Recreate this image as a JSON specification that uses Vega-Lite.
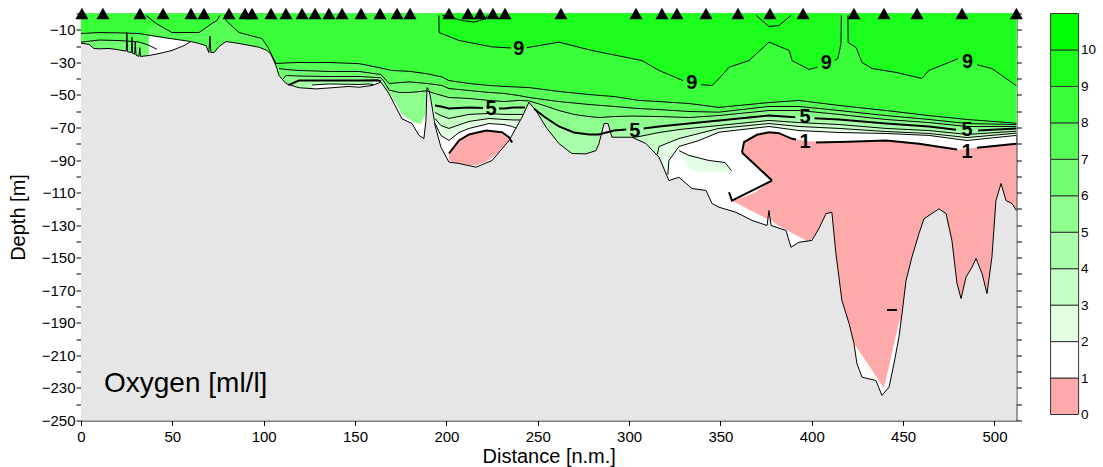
{
"$schema":"https://vega.github.io/schema/vega-lite/v6.json",
"autosize":{"type":"pad"},
"padding":{"left":8,"top":6.5,"right":0,"bottom":0},
"bounds":"flush",
"spacing":33.6,
"config":{"font":"Liberation Sans","view":{"stroke":null},"axis":{"labelFont":"Liberation Sans","titleFont":"Liberation Sans","labelColor":"black","titleColor":"black","titleFontWeight":"normal","grid":false,"domainColor":"black","tickColor":"black"},"text":{"font":"Liberation Sans"}},
"datasets":{
"bands":[
{"lv":2,"s":"2a","d":191,"z":-58},{"lv":2,"s":"2a","d":193.8,"z":-67.6},{"lv":2,"s":"2a","d":197,"z":-74.9},{"lv":2,"s":"2a","d":201.4,"z":-78},{"lv":2,"s":"2a","d":206.9,"z":-73.1},{"lv":2,"s":"2a","d":212.4,"z":-70.6},{"lv":2,"s":"2a","d":223.3,"z":-67.6},{"lv":2,"s":"2a","d":231.5,"z":-68.2},{"lv":2,"s":"2a","d":236,"z":-69.4},{"lv":2,"s":"2a","d":238.3,"z":-70.5},{"lv":2,"s":"2a","d":239,"z":-240},{"lv":2,"s":"2a","d":241,"z":-240},
{"lv":2,"s":"2b","d":313,"z":-240},{"lv":2,"s":"2b","d":318,"z":-240},{"lv":2,"s":"2b","d":321.8,"z":-90.3},{"lv":2,"s":"2b","d":327.3,"z":-81.7},{"lv":2,"s":"2b","d":338.3,"z":-78},{"lv":2,"s":"2b","d":349.2,"z":-72.9},{"lv":2,"s":"2b","d":376.6,"z":-69.4},{"lv":2,"s":"2b","d":393,"z":-71.9},{"lv":2,"s":"2b","d":414.9,"z":-73.1},{"lv":2,"s":"2b","d":440.6,"z":-73.7},{"lv":2,"s":"2b","d":464.1,"z":-74.9},{"lv":2,"s":"2b","d":485,"z":-78},{"lv":2,"s":"2b","d":512,"z":-74.9},
{"lv":3,"s":"3a","d":191,"z":-57},{"lv":3,"s":"3a","d":193.8,"z":-64.5},{"lv":3,"s":"3a","d":197,"z":-68.8},{"lv":3,"s":"3a","d":201.4,"z":-70.6},{"lv":3,"s":"3a","d":212.4,"z":-66.3},{"lv":3,"s":"3a","d":223.3,"z":-64.5},{"lv":3,"s":"3a","d":231.5,"z":-65.1},{"lv":3,"s":"3a","d":237,"z":-65.4},{"lv":3,"s":"3a","d":240.3,"z":-65.4},{"lv":3,"s":"3a","d":241,"z":-240},{"lv":3,"s":"3a","d":242.5,"z":-240},
{"lv":3,"s":"3b","d":301,"z":-240},{"lv":3,"s":"3b","d":313,"z":-240},{"lv":3,"s":"3b","d":316.4,"z":-81.7},{"lv":3,"s":"3b","d":327.3,"z":-76.8},{"lv":3,"s":"3b","d":338.3,"z":-73.7},{"lv":3,"s":"3b","d":349.2,"z":-70.6},{"lv":3,"s":"3b","d":376.6,"z":-67.6},{"lv":3,"s":"3b","d":393,"z":-69.4},{"lv":3,"s":"3b","d":414.9,"z":-70.6},{"lv":3,"s":"3b","d":440.6,"z":-72.5},{"lv":3,"s":"3b","d":464.1,"z":-73.7},{"lv":3,"s":"3b","d":485,"z":-76.2},{"lv":3,"s":"3b","d":512,"z":-73.5},
{"lv":4,"s":"4a","d":111,"z":-240},{"lv":4,"s":"4a","d":124.5,"z":-240},{"lv":4,"s":"4a","d":126.5,"z":-43.9},{"lv":4,"s":"4a","d":135.7,"z":-43.3},{"lv":4,"s":"4a","d":152.2,"z":-43.6},{"lv":4,"s":"4a","d":158,"z":-43.3},{"lv":4,"s":"4a","d":160,"z":-43.8},
{"lv":4,"s":"4b","d":191,"z":-55},{"lv":4,"s":"4b","d":193.8,"z":-60.8},{"lv":4,"s":"4b","d":197,"z":-62.7},{"lv":4,"s":"4b","d":201.4,"z":-64.5},{"lv":4,"s":"4b","d":212.4,"z":-62},{"lv":4,"s":"4b","d":223.3,"z":-61.4},{"lv":4,"s":"4b","d":231.5,"z":-62},{"lv":4,"s":"4b","d":237,"z":-62},{"lv":4,"s":"4b","d":241.9,"z":-62},{"lv":4,"s":"4b","d":242.5,"z":-240},{"lv":4,"s":"4b","d":301,"z":-240},{"lv":4,"s":"4b","d":302,"z":-76},{"lv":4,"s":"4b","d":305.4,"z":-75.6},{"lv":4,"s":"4b","d":316.4,"z":-73.1},{"lv":4,"s":"4b","d":327.3,"z":-71.3},{"lv":4,"s":"4b","d":338.3,"z":-70},{"lv":4,"s":"4b","d":349.2,"z":-68.8},{"lv":4,"s":"4b","d":376.6,"z":-65.7},{"lv":4,"s":"4b","d":393,"z":-67},{"lv":4,"s":"4b","d":414.9,"z":-68.2},{"lv":4,"s":"4b","d":440.6,"z":-70.6},{"lv":4,"s":"4b","d":464.1,"z":-71.9},{"lv":4,"s":"4b","d":485,"z":-74.3},{"lv":4,"s":"4b","d":512,"z":-72.3},
{"lv":5,"s":"5a","d":111,"z":-240},{"lv":5,"s":"5a","d":113.5,"z":-44},{"lv":5,"s":"5a","d":119.3,"z":-41.2},{"lv":5,"s":"5a","d":135.7,"z":-41.2},{"lv":5,"s":"5a","d":152.2,"z":-41.2},{"lv":5,"s":"5a","d":162,"z":-41},{"lv":5,"s":"5a","d":164.2,"z":-41.6},{"lv":5,"s":"5a","d":166,"z":-46},{"lv":5,"s":"5a","d":168.6,"z":-49},{"lv":5,"s":"5a","d":172.4,"z":-55},{"lv":5,"s":"5a","d":175.7,"z":-62},{"lv":5,"s":"5a","d":179.5,"z":-65},{"lv":5,"s":"5a","d":183,"z":-67},{"lv":5,"s":"5a","d":186,"z":-68},{"lv":5,"s":"5a","d":188.5,"z":-62},{"lv":5,"s":"5a","d":189.4,"z":-45.5},{"lv":5,"s":"5a","d":190.5,"z":-50},{"lv":5,"s":"5a","d":193.8,"z":-56.5},{"lv":5,"s":"5a","d":197,"z":-57.1},{"lv":5,"s":"5a","d":201.4,"z":-58.4},{"lv":5,"s":"5a","d":212.4,"z":-57.7},{"lv":5,"s":"5a","d":224.4,"z":-58.4},{"lv":5,"s":"5a","d":231.5,"z":-58.4},{"lv":5,"s":"5a","d":237,"z":-57.7},{"lv":5,"s":"5a","d":243,"z":-57.7},{"lv":5,"s":"5a","d":244,"z":-240},{"lv":5,"s":"5a","d":246.5,"z":-240},{"lv":5,"s":"5a","d":248,"z":-58.5},{"lv":5,"s":"5a","d":253.4,"z":-63.3},{"lv":5,"s":"5a","d":261.6,"z":-69.4},{"lv":5,"s":"5a","d":269.8,"z":-73.1},{"lv":5,"s":"5a","d":278.1,"z":-74.3},{"lv":5,"s":"5a","d":283.5,"z":-74.3},{"lv":5,"s":"5a","d":291.7,"z":-71.9},{"lv":5,"s":"5a","d":303.2,"z":-71},{"lv":5,"s":"5a","d":316.4,"z":-69.4},{"lv":5,"s":"5a","d":327.3,"z":-68.2},{"lv":5,"s":"5a","d":338.3,"z":-66.9},{"lv":5,"s":"5a","d":349.2,"z":-65.7},{"lv":5,"s":"5a","d":376.6,"z":-62.7},{"lv":5,"s":"5a","d":396.3,"z":-64},{"lv":5,"s":"5a","d":414.9,"z":-65.1},{"lv":5,"s":"5a","d":440.6,"z":-67.6},{"lv":5,"s":"5a","d":464.1,"z":-69.4},{"lv":5,"s":"5a","d":485,"z":-72},{"lv":5,"s":"5a","d":512,"z":-70.6},
{"lv":6,"s":"6a","d":0,"z":-240},{"lv":6,"s":"6a","d":35.6,"z":-240},{"lv":6,"s":"6a","d":37.2,"z":-13.6},{"lv":6,"s":"6a","d":46.5,"z":-15},{"lv":6,"s":"6a","d":57.5,"z":-16.8},{"lv":6,"s":"6a","d":60,"z":-17.2},
{"lv":6,"s":"6b","d":105.5,"z":-240},{"lv":6,"s":"6b","d":110.5,"z":-40.5},{"lv":6,"s":"6b","d":112.2,"z":-38.1},{"lv":6,"s":"6b","d":119.3,"z":-38.4},{"lv":6,"s":"6b","d":135.7,"z":-38.7},{"lv":6,"s":"6b","d":152.2,"z":-38.7},{"lv":6,"s":"6b","d":164.2,"z":-39.5},{"lv":6,"s":"6b","d":166,"z":-42},{"lv":6,"s":"6b","d":168.6,"z":-47},{"lv":6,"s":"6b","d":174.1,"z":-48.5},{"lv":6,"s":"6b","d":179.5,"z":-48.5},{"lv":6,"s":"6b","d":185,"z":-48},{"lv":6,"s":"6b","d":189.4,"z":-47.5},{"lv":6,"s":"6b","d":193.2,"z":-49},{"lv":6,"s":"6b","d":197.6,"z":-50.4},{"lv":6,"s":"6b","d":201.4,"z":-51.6},{"lv":6,"s":"6b","d":212.4,"z":-52.2},{"lv":6,"s":"6b","d":223.3,"z":-53.4},{"lv":6,"s":"6b","d":231.5,"z":-54.1},{"lv":6,"s":"6b","d":239.7,"z":-53.4},{"lv":6,"s":"6b","d":245.2,"z":-53.7},{"lv":6,"s":"6b","d":253.4,"z":-56.5},{"lv":6,"s":"6b","d":261.6,"z":-59.6},{"lv":6,"s":"6b","d":269.8,"z":-62},{"lv":6,"s":"6b","d":278.1,"z":-63.3},{"lv":6,"s":"6b","d":283.5,"z":-63.9},{"lv":6,"s":"6b","d":291.7,"z":-63.3},{"lv":6,"s":"6b","d":301.6,"z":-63},{"lv":6,"s":"6b","d":316.4,"z":-63.3},{"lv":6,"s":"6b","d":332.8,"z":-63.9},{"lv":6,"s":"6b","d":349.2,"z":-62.7},{"lv":6,"s":"6b","d":376.6,"z":-59.6},{"lv":6,"s":"6b","d":393,"z":-59.6},{"lv":6,"s":"6b","d":414.9,"z":-62},{"lv":6,"s":"6b","d":440.6,"z":-65.1},{"lv":6,"s":"6b","d":464.1,"z":-67},{"lv":6,"s":"6b","d":485,"z":-69.4},{"lv":6,"s":"6b","d":512,"z":-69.4},
{"lv":7,"s":"7a","d":0,"z":-17.6},{"lv":7,"s":"7a","d":9.9,"z":-16.3},{"lv":7,"s":"7a","d":20.8,"z":-16.6},{"lv":7,"s":"7a","d":31.7,"z":-17.5},{"lv":7,"s":"7a","d":35.6,"z":-19.5},{"lv":7,"s":"7a","d":37.2,"z":-13.6},{"lv":7,"s":"7a","d":46.5,"z":-15},{"lv":7,"s":"7a","d":57.5,"z":-16.8},{"lv":7,"s":"7a","d":60,"z":-17.2},{"lv":7,"s":"7a","d":61,"z":-240},{"lv":7,"s":"7a","d":105.5,"z":-240},{"lv":7,"s":"7a","d":106.7,"z":-31.9},{"lv":7,"s":"7a","d":108.4,"z":-33.8},{"lv":7,"s":"7a","d":112.2,"z":-34.4},{"lv":7,"s":"7a","d":119.3,"z":-35},{"lv":7,"s":"7a","d":135.7,"z":-35.6},{"lv":7,"s":"7a","d":152.2,"z":-35.6},{"lv":7,"s":"7a","d":164.2,"z":-37.5},{"lv":7,"s":"7a","d":168.6,"z":-43},{"lv":7,"s":"7a","d":174.1,"z":-42.5},{"lv":7,"s":"7a","d":179.5,"z":-42},{"lv":7,"s":"7a","d":189.4,"z":-43},{"lv":7,"s":"7a","d":197.6,"z":-44.2},{"lv":7,"s":"7a","d":201.4,"z":-46.1},{"lv":7,"s":"7a","d":212.4,"z":-47.3},{"lv":7,"s":"7a","d":223.3,"z":-48.5},{"lv":7,"s":"7a","d":231.5,"z":-49.1},{"lv":7,"s":"7a","d":239.7,"z":-50.4},{"lv":7,"s":"7a","d":245.2,"z":-51.6},{"lv":7,"s":"7a","d":261.6,"z":-54.1},{"lv":7,"s":"7a","d":278.1,"z":-55.9},{"lv":7,"s":"7a","d":291.7,"z":-57.1},{"lv":7,"s":"7a","d":305.4,"z":-58.4},{"lv":7,"s":"7a","d":316.4,"z":-59},{"lv":7,"s":"7a","d":332.8,"z":-60.2},{"lv":7,"s":"7a","d":349.2,"z":-60.6},{"lv":7,"s":"7a","d":376.6,"z":-57.1},{"lv":7,"s":"7a","d":393,"z":-57.1},{"lv":7,"s":"7a","d":414.9,"z":-59.6},{"lv":7,"s":"7a","d":440.6,"z":-62.7},{"lv":7,"s":"7a","d":464.1,"z":-65.1},{"lv":7,"s":"7a","d":485,"z":-67.6},{"lv":7,"s":"7a","d":512,"z":-68.2},
{"lv":8,"s":"8a","d":0,"z":-12.3},{"lv":8,"s":"8a","d":9.9,"z":-11.7},{"lv":8,"s":"8a","d":20.8,"z":-11.9},{"lv":8,"s":"8a","d":31.7,"z":-12.3},{"lv":8,"s":"8a","d":35.6,"z":-12.8},{"lv":8,"s":"8a","d":37.2,"z":-9.5},{"lv":8,"s":"8a","d":41.1,"z":-6.1},{"lv":8,"s":"8a","d":45.4,"z":-9.2},{"lv":8,"s":"8a","d":49.8,"z":-11.7},{"lv":8,"s":"8a","d":64.6,"z":-11.7},{"lv":8,"s":"8a","d":71.7,"z":-6.1},{"lv":8,"s":"8a","d":74.4,"z":-4.3},{"lv":8,"s":"8a","d":76.5,"z":-1.5},{"lv":8,"s":"8a","d":78,"z":-1.5},{"lv":8,"s":"8a","d":79.4,"z":-4.3},{"lv":8,"s":"8a","d":86.5,"z":-11.7},{"lv":8,"s":"8a","d":99.1,"z":-15.4},{"lv":8,"s":"8a","d":102.4,"z":-20.9},{"lv":8,"s":"8a","d":106.7,"z":-30.7},{"lv":8,"s":"8a","d":112.2,"z":-30.4},{"lv":8,"s":"8a","d":119.3,"z":-30.1},{"lv":8,"s":"8a","d":135.7,"z":-30.1},{"lv":8,"s":"8a","d":152.2,"z":-30.8},{"lv":8,"s":"8a","d":164.2,"z":-33.5},{"lv":8,"s":"8a","d":170,"z":-35},{"lv":8,"s":"8a","d":179.5,"z":-35.5},{"lv":8,"s":"8a","d":189.4,"z":-37},{"lv":8,"s":"8a","d":197.6,"z":-39},{"lv":8,"s":"8a","d":201.4,"z":-41.2},{"lv":8,"s":"8a","d":212.4,"z":-43},{"lv":8,"s":"8a","d":223.3,"z":-44.2},{"lv":8,"s":"8a","d":231.5,"z":-44.8},{"lv":8,"s":"8a","d":245.2,"z":-45.5},{"lv":8,"s":"8a","d":261.6,"z":-47.9},{"lv":8,"s":"8a","d":278.1,"z":-49.8},{"lv":8,"s":"8a","d":291.7,"z":-51},{"lv":8,"s":"8a","d":305.4,"z":-53.4},{"lv":8,"s":"8a","d":316.4,"z":-54.1},{"lv":8,"s":"8a","d":332.8,"z":-55.3},{"lv":8,"s":"8a","d":349.2,"z":-57.7},{"lv":8,"s":"8a","d":376.6,"z":-54.7},{"lv":8,"s":"8a","d":393,"z":-53.4},{"lv":8,"s":"8a","d":414.9,"z":-56.5},{"lv":8,"s":"8a","d":440.6,"z":-59.6},{"lv":8,"s":"8a","d":464.1,"z":-62.7},{"lv":8,"s":"8a","d":485,"z":-65.1},{"lv":8,"s":"8a","d":512,"z":-67.4},
{"lv":9,"s":"9a","d":195.8,"z":0},{"lv":9,"s":"9a","d":196,"z":-11.7},{"lv":9,"s":"9a","d":206.9,"z":-16.6},{"lv":9,"s":"9a","d":225,"z":-20.5},{"lv":9,"s":"9a","d":239.7,"z":-21.5},{"lv":9,"s":"9a","d":261.6,"z":-17.6},{"lv":9,"s":"9a","d":279.6,"z":-22.7},{"lv":9,"s":"9a","d":307,"z":-28.9},{"lv":9,"s":"9a","d":316.4,"z":-35},{"lv":9,"s":"9a","d":329,"z":-41.2},{"lv":9,"s":"9a","d":334.5,"z":-43},{"lv":9,"s":"9a","d":345.4,"z":-44.2},{"lv":9,"s":"9a","d":349.2,"z":-40},{"lv":9,"s":"9a","d":354.7,"z":-33},{"lv":9,"s":"9a","d":365.6,"z":-28.9},{"lv":9,"s":"9a","d":376.6,"z":-17.6},{"lv":9,"s":"9a","d":387.6,"z":-22.7},{"lv":9,"s":"9a","d":389.2,"z":-28.9},{"lv":9,"s":"9a","d":398.5,"z":-34.4},{"lv":9,"s":"9a","d":408.9,"z":-30.7},{"lv":9,"s":"9a","d":414.3,"z":-27.6},{"lv":9,"s":"9a","d":416,"z":-18.4},{"lv":9,"s":"9a","d":416.2,"z":0},
{"lv":9,"s":"9b","d":419.8,"z":0},{"lv":9,"s":"9b","d":419.9,"z":-17.8},{"lv":9,"s":"9b","d":424.2,"z":-20.9},{"lv":9,"s":"9b","d":427.5,"z":-30.1},{"lv":9,"s":"9b","d":433,"z":-33.8},{"lv":9,"s":"9b","d":446.1,"z":-36.2},{"lv":9,"s":"9b","d":460.3,"z":-39.9},{"lv":9,"s":"9b","d":464.1,"z":-35},{"lv":9,"s":"9b","d":480.6,"z":-27.6},{"lv":9,"s":"9b","d":491.5,"z":-31.9},{"lv":9,"s":"9b","d":498.6,"z":-33.8},{"lv":9,"s":"9b","d":512,"z":-44.4}
],
"patches":[
{"k":"p2","s":"p2","d":327.3,"t":-84.2,"z":-84.2},{"k":"p2","s":"p2","d":332.8,"t":-87.2,"z":-95.5},{"k":"p2","s":"p2","d":338.3,"t":-88.5,"z":-97.3},{"k":"p2","s":"p2","d":343.7,"t":-90.3,"z":-97.3},{"k":"p2","s":"p2","d":352.5,"t":-91.5,"z":-97.3},{"k":"p2","s":"p2","d":356,"t":-96.5,"z":-97.3},
{"k":"pink","s":"pb","d":201.4,"t":-86,"z":-90.3},{"k":"pink","s":"pb","d":204,"t":-81.5,"z":-91.5},{"k":"pink","s":"pb","d":206.9,"t":-78,"z":-92.1},{"k":"pink","s":"pb","d":212.4,"t":-74.3,"z":-93},{"k":"pink","s":"pb","d":216.2,"t":-72.9,"z":-93.4},{"k":"pink","s":"pb","d":221.7,"t":-71.9,"z":-91},{"k":"pink","s":"pb","d":225,"t":-72.2,"z":-88.5},{"k":"pink","s":"pb","d":228.8,"t":-73,"z":-85},{"k":"pink","s":"pb","d":231.5,"t":-74.8,"z":-81.5},{"k":"pink","s":"pb","d":234.5,"t":-77.8,"z":-79},
{"k":"pink","s":"pl","d":356.3,"t":-114.9,"z":-114.9},{"k":"pink","s":"pl","d":362.9,"t":-112.7,"z":-118.8},{"k":"pink","s":"pl","d":369,"t":-109.8,"z":-122.4},{"k":"pink","s":"pl","d":378.2,"t":-102.6,"z":-127.6},
{"k":"pink","s":"pm","d":361.8,"t":-84,"z":-86},{"k":"pink","s":"pm","d":362.9,"t":-79,"z":-87.5},{"k":"pink","s":"pm","d":365.6,"t":-77.3,"z":-89.4},{"k":"pink","s":"pm","d":370,"t":-74.5,"z":-94},{"k":"pink","s":"pm","d":376.6,"t":-72.9,"z":-101},{"k":"pink","s":"pm","d":378.1,"t":-72.8,"z":-102.5},{"k":"pink","s":"pm","d":378.3,"t":-72.8,"z":-127.6},{"k":"pink","s":"pm","d":382,"t":-73.5,"z":-130.5},{"k":"pink","s":"pm","d":389.2,"t":-77,"z":-134.8},{"k":"pink","s":"pm","d":396.8,"t":-78.3,"z":-139.4},{"k":"pink","s":"pm","d":398.5,"t":-78.5,"z":-240},{"k":"pink","s":"pm","d":420,"t":-78.8,"z":-240},{"k":"pink","s":"pm","d":423.1,"t":-78.7,"z":-202.7},{"k":"pink","s":"pm","d":431.3,"t":-78.4,"z":-216.2},{"k":"pink","s":"pm","d":439.5,"t":-78.1,"z":-230.3},{"k":"pink","s":"pm","d":448.3,"t":-78.8,"z":-186.7},{"k":"pink","s":"pm","d":451,"t":-79.2,"z":-240},{"k":"pink","s":"pm","d":458.7,"t":-80,"z":-240},{"k":"pink","s":"pm","d":480.6,"t":-83.7,"z":-240},{"k":"pink","s":"pm","d":491.5,"t":-82.1,"z":-240},{"k":"pink","s":"pm","d":512,"t":-80,"z":-240}
],
"floor":[
{"d":0,"z":-18.2},{"d":4.4,"z":-19},{"d":7.1,"z":-21.5},{"d":9.9,"z":-21.7},{"d":15.3,"z":-21.5},{"d":19.7,"z":-22.1},{"d":22.4,"z":-22.7},{"d":24.8,"z":-23},{"d":25.1,"z":-11.7},{"d":25.5,"z":-23.5},{"d":27.6,"z":-24},{"d":27.9,"z":-14.7},{"d":28.3,"z":-24.5},{"d":29.4,"z":-25},{"d":29.7,"z":-17.5},{"d":30.1,"z":-25.5},{"d":31.7,"z":-26.4},{"d":32.2,"z":-21},{"d":32.6,"z":-26.4},{"d":37.2,"z":-25.8},{"d":42.7,"z":-24.6},{"d":49.8,"z":-22.7},{"d":56.4,"z":-19.7},{"d":60.2,"z":-17.2},{"d":64.6,"z":-18.4},{"d":68.4,"z":-19.7},{"d":70,"z":-24},{"d":70.6,"z":-14},{"d":71.1,"z":-24},{"d":72.8,"z":-24},{"d":75.5,"z":-20.3},{"d":79.4,"z":-17.2},{"d":86.5,"z":-18.4},{"d":97.4,"z":-20.7},{"d":101.8,"z":-22.7},{"d":104,"z":-25.2},{"d":106.7,"z":-31.9},{"d":108.4,"z":-38.1},{"d":112.2,"z":-43},{"d":119.3,"z":-45.6},{"d":128.6,"z":-46.3},{"d":137.4,"z":-45.6},{"d":146.7,"z":-44.8},{"d":152.2,"z":-45.3},{"d":159.3,"z":-44.2},{"d":164.2,"z":-42.2},{"d":168.6,"z":-49.3},{"d":172.4,"z":-57.6},{"d":175.7,"z":-64.7},{"d":181.2,"z":-67.6},{"d":185,"z":-74.9},{"d":187.7,"z":-76.8},{"d":188.8,"z":-65.7},{"d":189.4,"z":-45.5},{"d":190.5,"z":-47.3},{"d":191.6,"z":-53.4},{"d":193.8,"z":-68.8},{"d":197,"z":-82.1},{"d":201.4,"z":-91.3},{"d":206.9,"z":-92.1},{"d":216.2,"z":-94.4},{"d":225,"z":-90.3},{"d":234.3,"z":-78},{"d":241.4,"z":-63.7},{"d":245.2,"z":-54.5},{"d":249,"z":-59.6},{"d":254.5,"z":-69.8},{"d":261.6,"z":-79.9},{"d":268.7,"z":-86},{"d":276.4,"z":-86.2},{"d":281.9,"z":-84.2},{"d":283.5,"z":-79.9},{"d":286.3,"z":-67.6},{"d":288.5,"z":-67.6},{"d":290.6,"z":-76},{"d":301.6,"z":-76},{"d":309.2,"z":-79.9},{"d":316.4,"z":-88.3},{"d":321.8,"z":-102.6},{"d":327.3,"z":-100.6},{"d":334.4,"z":-107.5},{"d":342.1,"z":-108.7},{"d":345.4,"z":-116.7},{"d":349.2,"z":-119},{"d":358.5,"z":-122.1},{"d":367.3,"z":-127.1},{"d":375.5,"z":-130.2},{"d":376.6,"z":-121},{"d":377.7,"z":-130.2},{"d":385.9,"z":-133.3},{"d":388.6,"z":-143.6},{"d":393,"z":-140.5},{"d":400.1,"z":-139.4},{"d":403.9,"z":-132.1},{"d":407.8,"z":-122.9},{"d":411,"z":-122.1},{"d":413.2,"z":-147.4},{"d":416.5,"z":-176.3},{"d":420.4,"z":-190.4},{"d":423.1,"z":-202.7},{"d":424.7,"z":-215},{"d":427.5,"z":-223.4},{"d":435.1,"z":-225.4},{"d":438.4,"z":-234.6},{"d":442.3,"z":-229.5},{"d":445,"z":-215},{"d":447.7,"z":-198.8},{"d":449.4,"z":-184.3},{"d":451.6,"z":-164},{"d":454.8,"z":-149.7},{"d":458.7,"z":-135.1},{"d":461.4,"z":-126.1},{"d":469.6,"z":-120},{"d":473.5,"z":-122.9},{"d":476.7,"z":-139.4},{"d":479.5,"z":-165.8},{"d":481.7,"z":-175.1},{"d":484.4,"z":-162},{"d":487.7,"z":-155.8},{"d":489.9,"z":-150.5},{"d":493.2,"z":-159.7},{"d":495.9,"z":-172},{"d":498.6,"z":-149.7},{"d":500.8,"z":-114.9},{"d":503.6,"z":-104.4},{"d":506.3,"z":-114.9},{"d":509.6,"z":-116.7},{"d":512,"z":-121}
],
"lines":[
{"lv":9,"s":"9a","d":195.9,"z":-1.2},{"lv":9,"s":"9a","d":196,"z":-11.7},{"lv":9,"s":"9a","d":206.9,"z":-16.6},{"lv":9,"s":"9a","d":225,"z":-20.5},{"lv":9,"s":"9a","d":235.5,"z":-21.2},
{"lv":9,"s":"9b","d":244,"z":-21},{"lv":9,"s":"9b","d":261.6,"z":-17.6},{"lv":9,"s":"9b","d":279.6,"z":-22.7},{"lv":9,"s":"9b","d":307,"z":-28.9},{"lv":9,"s":"9b","d":316.4,"z":-35},{"lv":9,"s":"9b","d":329.5,"z":-41.2},
{"lv":9,"s":"9c","d":339.5,"z":-43.8},{"lv":9,"s":"9c","d":345.4,"z":-44.2},{"lv":9,"s":"9c","d":349.2,"z":-40},{"lv":9,"s":"9c","d":354.7,"z":-33},{"lv":9,"s":"9c","d":365.6,"z":-28.9},{"lv":9,"s":"9c","d":376.6,"z":-17.6},{"lv":9,"s":"9c","d":387.6,"z":-22.7},{"lv":9,"s":"9c","d":389.2,"z":-28.9},{"lv":9,"s":"9c","d":398.5,"z":-34.4},{"lv":9,"s":"9c","d":403,"z":-33},
{"lv":9,"s":"9d","d":412.5,"z":-28.8},{"lv":9,"s":"9d","d":414.3,"z":-27.6},{"lv":9,"s":"9d","d":416,"z":-18.4},{"lv":9,"s":"9d","d":416.2,"z":-1.2},
{"lv":9,"s":"9e","d":419.8,"z":-1.2},{"lv":9,"s":"9e","d":419.9,"z":-17.8},{"lv":9,"s":"9e","d":424.2,"z":-20.9},{"lv":9,"s":"9e","d":427.5,"z":-30.1},{"lv":9,"s":"9e","d":433,"z":-33.8},{"lv":9,"s":"9e","d":446.1,"z":-36.2},{"lv":9,"s":"9e","d":460.3,"z":-39.9},{"lv":9,"s":"9e","d":464.1,"z":-35},{"lv":9,"s":"9e","d":480,"z":-27.8},
{"lv":9,"s":"9f","d":490.5,"z":-31.5},{"lv":9,"s":"9f","d":498.6,"z":-33.8},{"lv":9,"s":"9f","d":512,"z":-44.4},
{"lv":10,"s":"10a","d":197.8,"z":-1.2},{"lv":10,"s":"10a","d":208.7,"z":-4.3},{"lv":10,"s":"10a","d":215.1,"z":-5.3},{"lv":10,"s":"10a","d":221.5,"z":-3.3},{"lv":10,"s":"10a","d":222.4,"z":-1.2},
{"lv":10,"s":"10b","d":369.5,"z":-1.2},{"lv":10,"s":"10b","d":376.6,"z":-8},{"lv":10,"s":"10b","d":382,"z":-7.4},{"lv":10,"s":"10b","d":388.6,"z":-1.2},
{"lv":8,"s":"8a","d":0,"z":-12.3},{"lv":8,"s":"8a","d":9.9,"z":-11.7},{"lv":8,"s":"8a","d":20.8,"z":-11.9},{"lv":8,"s":"8a","d":31.7,"z":-12.3},{"lv":8,"s":"8a","d":46.5,"z":-15},{"lv":8,"s":"8a","d":57.5,"z":-16.8},{"lv":8,"s":"8a","d":60,"z":-17.2},
{"lv":8,"s":"8b","d":35.6,"z":-1.2},{"lv":8,"s":"8b","d":41.1,"z":-6.1},{"lv":8,"s":"8b","d":49.8,"z":-11.7},{"lv":8,"s":"8b","d":64.6,"z":-11.7},{"lv":8,"s":"8b","d":71.7,"z":-6.1},{"lv":8,"s":"8b","d":74.4,"z":-4.3},{"lv":8,"s":"8b","d":76,"z":-1.2},
{"lv":8,"s":"8c","d":78.5,"z":-1.2},{"lv":8,"s":"8c","d":79.4,"z":-4.3},{"lv":8,"s":"8c","d":86.5,"z":-11.7},{"lv":8,"s":"8c","d":99.1,"z":-15.4},{"lv":8,"s":"8c","d":102.4,"z":-20.9},{"lv":8,"s":"8c","d":106.7,"z":-30.7},{"lv":8,"s":"8c","d":112.2,"z":-30.4},{"lv":8,"s":"8c","d":119.3,"z":-30.1},{"lv":8,"s":"8c","d":135.7,"z":-30.1},{"lv":8,"s":"8c","d":152.2,"z":-30.8},{"lv":8,"s":"8c","d":164.2,"z":-33.5},{"lv":8,"s":"8c","d":170,"z":-35},{"lv":8,"s":"8c","d":179.5,"z":-35.5},{"lv":8,"s":"8c","d":189.4,"z":-37},{"lv":8,"s":"8c","d":197.6,"z":-39},{"lv":8,"s":"8c","d":201.4,"z":-41.2},{"lv":8,"s":"8c","d":212.4,"z":-43},{"lv":8,"s":"8c","d":223.3,"z":-44.2},{"lv":8,"s":"8c","d":231.5,"z":-44.8},{"lv":8,"s":"8c","d":245.2,"z":-45.5},{"lv":8,"s":"8c","d":261.6,"z":-47.9},{"lv":8,"s":"8c","d":278.1,"z":-49.8},{"lv":8,"s":"8c","d":291.7,"z":-51},{"lv":8,"s":"8c","d":305.4,"z":-53.4},{"lv":8,"s":"8c","d":316.4,"z":-54.1},{"lv":8,"s":"8c","d":332.8,"z":-55.3},{"lv":8,"s":"8c","d":349.2,"z":-57.7},{"lv":8,"s":"8c","d":376.6,"z":-54.7},{"lv":8,"s":"8c","d":393,"z":-53.4},{"lv":8,"s":"8c","d":414.9,"z":-56.5},{"lv":8,"s":"8c","d":440.6,"z":-59.6},{"lv":8,"s":"8c","d":464.1,"z":-62.7},{"lv":8,"s":"8c","d":485,"z":-65.1},{"lv":8,"s":"8c","d":512,"z":-67.4},
{"lv":7,"s":"7a","d":0,"z":-17.6},{"lv":7,"s":"7a","d":9.9,"z":-16.3},{"lv":7,"s":"7a","d":20.8,"z":-16.6},{"lv":7,"s":"7a","d":31.7,"z":-17.5},{"lv":7,"s":"7a","d":37.2,"z":-19.5},{"lv":7,"s":"7a","d":41.5,"z":-22},
{"lv":7,"s":"7b","d":108.4,"z":-33.8},{"lv":7,"s":"7b","d":112.2,"z":-34.4},{"lv":7,"s":"7b","d":119.3,"z":-35},{"lv":7,"s":"7b","d":135.7,"z":-35.6},{"lv":7,"s":"7b","d":152.2,"z":-35.6},{"lv":7,"s":"7b","d":164.2,"z":-37.5},{"lv":7,"s":"7b","d":168.6,"z":-43},{"lv":7,"s":"7b","d":174.1,"z":-42.5},{"lv":7,"s":"7b","d":179.5,"z":-42},{"lv":7,"s":"7b","d":189.4,"z":-43},{"lv":7,"s":"7b","d":197.6,"z":-44.2},{"lv":7,"s":"7b","d":201.4,"z":-46.1},{"lv":7,"s":"7b","d":212.4,"z":-47.3},{"lv":7,"s":"7b","d":223.3,"z":-48.5},{"lv":7,"s":"7b","d":231.5,"z":-49.1},{"lv":7,"s":"7b","d":239.7,"z":-50.4},{"lv":7,"s":"7b","d":245.2,"z":-51.6},{"lv":7,"s":"7b","d":261.6,"z":-54.1},{"lv":7,"s":"7b","d":278.1,"z":-55.9},{"lv":7,"s":"7b","d":291.7,"z":-57.1},{"lv":7,"s":"7b","d":305.4,"z":-58.4},{"lv":7,"s":"7b","d":316.4,"z":-59},{"lv":7,"s":"7b","d":332.8,"z":-60.2},{"lv":7,"s":"7b","d":349.2,"z":-60.6},{"lv":7,"s":"7b","d":376.6,"z":-57.1},{"lv":7,"s":"7b","d":393,"z":-57.1},{"lv":7,"s":"7b","d":414.9,"z":-59.6},{"lv":7,"s":"7b","d":440.6,"z":-62.7},{"lv":7,"s":"7b","d":464.1,"z":-65.1},{"lv":7,"s":"7b","d":485,"z":-67.6},{"lv":7,"s":"7b","d":512,"z":-68.2},
{"lv":6,"s":"6b","d":110.5,"z":-40.5},{"lv":6,"s":"6b","d":112.2,"z":-38.1},{"lv":6,"s":"6b","d":119.3,"z":-38.4},{"lv":6,"s":"6b","d":135.7,"z":-38.7},{"lv":6,"s":"6b","d":152.2,"z":-38.7},{"lv":6,"s":"6b","d":164.2,"z":-39.5},{"lv":6,"s":"6b","d":166,"z":-42},{"lv":6,"s":"6b","d":168.6,"z":-47},{"lv":6,"s":"6b","d":174.1,"z":-48.5},{"lv":6,"s":"6b","d":179.5,"z":-48.5},{"lv":6,"s":"6b","d":185,"z":-48},{"lv":6,"s":"6b","d":189.4,"z":-47.5},{"lv":6,"s":"6b","d":193.2,"z":-49},{"lv":6,"s":"6b","d":197.6,"z":-50.4},{"lv":6,"s":"6b","d":201.4,"z":-51.6},{"lv":6,"s":"6b","d":212.4,"z":-52.2},{"lv":6,"s":"6b","d":223.3,"z":-53.4},{"lv":6,"s":"6b","d":231.5,"z":-54.1},{"lv":6,"s":"6b","d":239.7,"z":-53.4},{"lv":6,"s":"6b","d":245.2,"z":-53.7},{"lv":6,"s":"6b","d":253.4,"z":-56.5},{"lv":6,"s":"6b","d":261.6,"z":-59.6},{"lv":6,"s":"6b","d":269.8,"z":-62},{"lv":6,"s":"6b","d":278.1,"z":-63.3},{"lv":6,"s":"6b","d":283.5,"z":-63.9},{"lv":6,"s":"6b","d":291.7,"z":-63.3},{"lv":6,"s":"6b","d":301.6,"z":-63},{"lv":6,"s":"6b","d":316.4,"z":-63.3},{"lv":6,"s":"6b","d":332.8,"z":-63.9},{"lv":6,"s":"6b","d":349.2,"z":-62.7},{"lv":6,"s":"6b","d":376.6,"z":-59.6},{"lv":6,"s":"6b","d":393,"z":-59.6},{"lv":6,"s":"6b","d":414.9,"z":-62},{"lv":6,"s":"6b","d":440.6,"z":-65.1},{"lv":6,"s":"6b","d":464.1,"z":-67},{"lv":6,"s":"6b","d":485,"z":-69.4},{"lv":6,"s":"6b","d":512,"z":-69.4},
{"lv":5,"s":"5a","d":113.5,"z":-44},{"lv":5,"s":"5a","d":119.3,"z":-41.2},{"lv":5,"s":"5a","d":135.7,"z":-41.2},{"lv":5,"s":"5a","d":152.2,"z":-41.2},{"lv":5,"s":"5a","d":162,"z":-41},{"lv":5,"s":"5a","d":164.2,"z":-41.6},
{"lv":5,"s":"5b","d":193.8,"z":-56.5},{"lv":5,"s":"5b","d":197,"z":-57.1},{"lv":5,"s":"5b","d":201.4,"z":-58.4},{"lv":5,"s":"5b","d":212.4,"z":-57.7},{"lv":5,"s":"5b","d":220,"z":-58},
{"lv":5,"s":"5c","d":228.8,"z":-58.4},{"lv":5,"s":"5c","d":231.5,"z":-58.4},{"lv":5,"s":"5c","d":237,"z":-57.7},{"lv":5,"s":"5c","d":243,"z":-57.7},
{"lv":5,"s":"5d","d":248,"z":-58.5},{"lv":5,"s":"5d","d":253.4,"z":-63.3},{"lv":5,"s":"5d","d":261.6,"z":-69.4},{"lv":5,"s":"5d","d":269.8,"z":-73.1},{"lv":5,"s":"5d","d":278.1,"z":-74.3},{"lv":5,"s":"5d","d":283.5,"z":-74.3},{"lv":5,"s":"5d","d":291.7,"z":-71.9},{"lv":5,"s":"5d","d":298.5,"z":-71.3},
{"lv":5,"s":"5e","d":308,"z":-70.7},{"lv":5,"s":"5e","d":316.4,"z":-69.4},{"lv":5,"s":"5e","d":327.3,"z":-68.2},{"lv":5,"s":"5e","d":338.3,"z":-66.9},{"lv":5,"s":"5e","d":349.2,"z":-65.7},{"lv":5,"s":"5e","d":376.6,"z":-62.7},{"lv":5,"s":"5e","d":391,"z":-63.8},
{"lv":5,"s":"5f","d":401.5,"z":-64.4},{"lv":5,"s":"5f","d":414.9,"z":-65.1},{"lv":5,"s":"5f","d":440.6,"z":-67.6},{"lv":5,"s":"5f","d":464.1,"z":-69.4},{"lv":5,"s":"5f","d":479,"z":-71.4},
{"lv":5,"s":"5g","d":491,"z":-71.8},{"lv":5,"s":"5g","d":512,"z":-70.6},
{"lv":4,"s":"4a","d":126.5,"z":-43.9},{"lv":4,"s":"4a","d":135.7,"z":-43.3},{"lv":4,"s":"4a","d":152.2,"z":-43.6},{"lv":4,"s":"4a","d":158,"z":-43.3},{"lv":4,"s":"4a","d":160,"z":-43.8},
{"lv":4,"s":"4b","d":193.8,"z":-60.8},{"lv":4,"s":"4b","d":197,"z":-62.7},{"lv":4,"s":"4b","d":201.4,"z":-64.5},{"lv":4,"s":"4b","d":212.4,"z":-62},{"lv":4,"s":"4b","d":223.3,"z":-61.4},{"lv":4,"s":"4b","d":231.5,"z":-62},{"lv":4,"s":"4b","d":237,"z":-62},{"lv":4,"s":"4b","d":241.9,"z":-62},
{"lv":4,"s":"4c","d":302,"z":-76},{"lv":4,"s":"4c","d":305.4,"z":-75.6},{"lv":4,"s":"4c","d":316.4,"z":-73.1},{"lv":4,"s":"4c","d":327.3,"z":-71.3},{"lv":4,"s":"4c","d":338.3,"z":-70},{"lv":4,"s":"4c","d":349.2,"z":-68.8},{"lv":4,"s":"4c","d":376.6,"z":-65.7},{"lv":4,"s":"4c","d":393,"z":-67},{"lv":4,"s":"4c","d":414.9,"z":-68.2},{"lv":4,"s":"4c","d":440.6,"z":-70.6},{"lv":4,"s":"4c","d":464.1,"z":-71.9},{"lv":4,"s":"4c","d":485,"z":-74.3},{"lv":4,"s":"4c","d":512,"z":-72.3},
{"lv":3,"s":"3a","d":193.8,"z":-64.5},{"lv":3,"s":"3a","d":197,"z":-68.8},{"lv":3,"s":"3a","d":201.4,"z":-70.6},{"lv":3,"s":"3a","d":212.4,"z":-66.3},{"lv":3,"s":"3a","d":223.3,"z":-64.5},{"lv":3,"s":"3a","d":231.5,"z":-65.1},{"lv":3,"s":"3a","d":237,"z":-65.4},{"lv":3,"s":"3a","d":240.3,"z":-65.4},
{"lv":3,"s":"3b","d":315.5,"z":-86.5},{"lv":3,"s":"3b","d":316.4,"z":-81.7},{"lv":3,"s":"3b","d":327.3,"z":-76.8},{"lv":3,"s":"3b","d":338.3,"z":-73.7},{"lv":3,"s":"3b","d":349.2,"z":-70.6},{"lv":3,"s":"3b","d":376.6,"z":-67.6},{"lv":3,"s":"3b","d":393,"z":-69.4},{"lv":3,"s":"3b","d":414.9,"z":-70.6},{"lv":3,"s":"3b","d":440.6,"z":-72.5},{"lv":3,"s":"3b","d":464.1,"z":-73.7},{"lv":3,"s":"3b","d":485,"z":-76.2},{"lv":3,"s":"3b","d":512,"z":-73.5},
{"lv":2,"s":"2a","d":193.8,"z":-67.6},{"lv":2,"s":"2a","d":197,"z":-74.9},{"lv":2,"s":"2a","d":201.4,"z":-78},{"lv":2,"s":"2a","d":206.9,"z":-73.1},{"lv":2,"s":"2a","d":212.4,"z":-70.6},{"lv":2,"s":"2a","d":223.3,"z":-67.6},{"lv":2,"s":"2a","d":231.5,"z":-68.2},{"lv":2,"s":"2a","d":236,"z":-69.4},{"lv":2,"s":"2a","d":238.3,"z":-70.5},
{"lv":2,"s":"2b","d":321.2,"z":-99},{"lv":2,"s":"2b","d":321.8,"z":-90.3},{"lv":2,"s":"2b","d":327.3,"z":-81.7},{"lv":2,"s":"2b","d":338.3,"z":-78},{"lv":2,"s":"2b","d":349.2,"z":-72.9},{"lv":2,"s":"2b","d":376.6,"z":-69.4},{"lv":2,"s":"2b","d":393,"z":-71.9},{"lv":2,"s":"2b","d":414.9,"z":-73.1},{"lv":2,"s":"2b","d":440.6,"z":-73.7},{"lv":2,"s":"2b","d":464.1,"z":-74.9},{"lv":2,"s":"2b","d":485,"z":-78},{"lv":2,"s":"2b","d":512,"z":-74.9},
{"lv":2,"s":"2c","d":327.3,"z":-84.2},{"lv":2,"s":"2c","d":332.8,"z":-87.2},{"lv":2,"s":"2c","d":343.7,"z":-90.3},{"lv":2,"s":"2c","d":352.5,"z":-91.5},{"lv":2,"s":"2c","d":356,"z":-96.5},
{"lv":1,"s":"1a","d":201.4,"z":-86},{"lv":1,"s":"1a","d":206.9,"z":-78},{"lv":1,"s":"1a","d":212.4,"z":-74.3},{"lv":1,"s":"1a","d":221.7,"z":-71.9},{"lv":1,"s":"1a","d":230.4,"z":-72.9},{"lv":1,"s":"1a","d":234.3,"z":-76.2},{"lv":1,"s":"1a","d":236,"z":-79.2},
{"lv":1,"s":"1b","d":354.7,"z":-109.8},{"lv":1,"s":"1b","d":356.3,"z":-114.9},{"lv":1,"s":"1b","d":378.2,"z":-102.6},
{"lv":1,"s":"1c","d":361.8,"z":-85.4},{"lv":1,"s":"1c","d":378.2,"z":-102.6},
{"lv":1,"s":"1d","d":361.8,"z":-85.4},{"lv":1,"s":"1d","d":362.9,"z":-79},{"lv":1,"s":"1d","d":370,"z":-74.5},{"lv":1,"s":"1d","d":376.6,"z":-72.9},{"lv":1,"s":"1d","d":382,"z":-73.5},{"lv":1,"s":"1d","d":389.2,"z":-77},{"lv":1,"s":"1d","d":391.4,"z":-77.4},
{"lv":1,"s":"1e","d":402.3,"z":-79.2},{"lv":1,"s":"1e","d":420,"z":-78.8},{"lv":1,"s":"1e","d":440.6,"z":-78},{"lv":1,"s":"1e","d":458.7,"z":-80},{"lv":1,"s":"1e","d":479.5,"z":-83.5},
{"lv":1,"s":"1f","d":490.4,"z":-82.5},{"lv":1,"s":"1f","d":512,"z":-80},
{"lv":1,"s":"1g","d":441.2,"z":-182.1},{"lv":1,"s":"1g","d":446.6,"z":-182.1}
],
"labels":[
{"t":"9","d":239.7,"z":-21.5},{"t":"9","d":334.4,"z":-42.4},{"t":"9","d":408,"z":-30.7},{"t":"9","d":485.3,"z":-29.5},
{"t":"5","d":224.4,"z":-58.4},{"t":"5","d":303.2,"z":-72},{"t":"5","d":396.3,"z":-63.8},{"t":"5","d":485,"z":-71.3},
{"t":"1","d":396.3,"z":-79},{"t":"1","d":485,"z":-84.8}
],
"notes":[{"t":"Oxygen [ml/l]","d":12.6,"z":-232.6}],
"stations":[{"d":0.5},{"d":12},{"d":32.3},{"d":44.9},{"d":60.2},{"d":67.3},{"d":81},{"d":89.8},{"d":93.6},{"d":104},{"d":112.2},{"d":121},{"d":128.1},{"d":135.7},{"d":142.9},{"d":153.3},{"d":163.7},{"d":173},{"d":180.1},{"d":201.4},{"d":211.8},{"d":218.4},{"d":225.5},{"d":232.1},{"d":262.7},{"d":303.8},{"d":318},{"d":326.2},{"d":342.1},{"d":359.6},{"d":377.1},{"d":395.2},{"d":423.1},{"d":439.5},{"d":457.6},{"d":482.2},{"d":512}],
"legend":[{"lo":0,"hi":1},{"lo":1,"hi":2},{"lo":2,"hi":3},{"lo":3,"hi":4},{"lo":4,"hi":5},{"lo":5,"hi":6},{"lo":6,"hi":7},{"lo":7,"hi":8},{"lo":8,"hi":9},{"lo":9,"hi":10},{"lo":10,"hi":11}]
},
"hconcat":[
{
"width":935.4,"height":407,
"resolve":{"axis":{"x":"independent","y":"independent"}},
"layer":[
{"data":{"name":"bands"},"transform":[{"filter":"datum.lv==2"}],"mark":{"type":"area","color":"#E3FFE3"},
 "encoding":{"x":{"field":"d","type":"quantitative","scale":{"domain":[0,512],"nice":false,"zero":false},
   "axis":{"orient":"bottom","values":[0,50,100,150,200,250,300,350,400,450,500],"tickSize":5,"labelFontSize":15,"labelPadding":4,"labelFlush":false,"labelOverlap":false,"title":"Distance [n.m.]","titleFontSize":20,"titlePadding":2}},
  "y":{"field":"z","type":"quantitative","scale":{"domain":[-250,0],"nice":false,"zero":false},
   "axis":{"orient":"left","values":[0,-10,-20,-30,-40,-50,-60,-70,-80,-90,-100,-110,-120,-130,-140,-150,-160,-170,-180,-190,-200,-210,-220,-230,-240,-250],"labelExpr":"(datum.value+10)%20==0 ? datum.label : ''","tickSize":5,"labelFontSize":15,"labelPadding":1,"labelFlush":false,"labelOverlap":false,"title":"Depth [m]","titleFontSize":20,"titlePadding":12.7}},
  "y2":{"datum":0},"detail":{"field":"s"}}},
{"data":{"name":"bands"},"transform":[{"filter":"datum.lv==3"}],"mark":{"type":"area","color":"#C6FFC6"},"encoding":{"x":{"field":"d","type":"quantitative","axis":null},"y":{"field":"z","type":"quantitative","axis":null},"y2":{"datum":0},"detail":{"field":"s"}}},
{"data":{"name":"bands"},"transform":[{"filter":"datum.lv==4"}],"mark":{"type":"area","color":"#AAFFAA"},"encoding":{"x":{"field":"d","type":"quantitative","axis":null},"y":{"field":"z","type":"quantitative","axis":null},"y2":{"datum":0},"detail":{"field":"s"}}},
{"data":{"name":"bands"},"transform":[{"filter":"datum.lv==5"}],"mark":{"type":"area","color":"#8EFF8E"},"encoding":{"x":{"field":"d","type":"quantitative","axis":null},"y":{"field":"z","type":"quantitative","axis":null},"y2":{"datum":0},"detail":{"field":"s"}}},
{"data":{"name":"bands"},"transform":[{"filter":"datum.lv==6"}],"mark":{"type":"area","color":"#71FF71"},"encoding":{"x":{"field":"d","type":"quantitative","axis":null},"y":{"field":"z","type":"quantitative","axis":null},"y2":{"datum":0},"detail":{"field":"s"}}},
{"data":{"name":"bands"},"transform":[{"filter":"datum.lv==7"}],"mark":{"type":"area","color":"#55FF55"},"encoding":{"x":{"field":"d","type":"quantitative","axis":null},"y":{"field":"z","type":"quantitative","axis":null},"y2":{"datum":0},"detail":{"field":"s"}}},
{"data":{"name":"bands"},"transform":[{"filter":"datum.lv==8"}],"mark":{"type":"area","color":"#39FF39"},"encoding":{"x":{"field":"d","type":"quantitative","axis":null},"y":{"field":"z","type":"quantitative","axis":null},"y2":{"datum":0},"detail":{"field":"s"}}},
{"data":{"name":"bands"},"transform":[{"filter":"datum.lv==9"}],"mark":{"type":"area","color":"#1CFF1C"},"encoding":{"x":{"field":"d","type":"quantitative","axis":null},"y":{"field":"z","type":"quantitative","axis":null},"y2":{"datum":0},"detail":{"field":"s"}}},
{"data":{"name":"patches"},"transform":[{"filter":"datum.k=='p2'"}],"mark":{"type":"area","color":"#E3FFE3"},"encoding":{"x":{"field":"d","type":"quantitative","axis":null},"y":{"field":"z","type":"quantitative","axis":null},"y2":{"field":"t"},"detail":{"field":"s"}}},
{"data":{"name":"patches"},"transform":[{"filter":"datum.k=='pink'"}],"mark":{"type":"area","color":"#FFAAAA"},"encoding":{"x":{"field":"d","type":"quantitative","axis":null},"y":{"field":"z","type":"quantitative","axis":null},"y2":{"field":"t"},"detail":{"field":"s"}}},
{"data":{"name":"floor"},"mark":{"type":"area","color":"#E6E6E6"},"encoding":{"x":{"field":"d","type":"quantitative","axis":null},"y":{"field":"z","type":"quantitative","axis":null},"y2":{"datum":-250}}},
{"data":{"name":"floor"},"mark":{"type":"line","color":"black","strokeWidth":1},
 "encoding":{"x":{"field":"d","type":"quantitative","axis":{"orient":"top","ticks":false,"labels":false,"domainColor":"#999999","domainWidth":1.5,"title":null}},
  "y":{"field":"z","type":"quantitative","axis":{"orient":"right","values":[0,-10,-20,-30,-40,-50,-60,-70,-80,-90,-100,-110,-120,-130,-140,-150,-160,-170,-180,-190,-200,-210,-220,-230,-240,-250],"labels":false,"tickSize":5,"title":null}}}},
{"data":{"name":"lines"},"transform":[{"filter":"datum.lv!=1 && datum.lv!=5"}],"mark":{"type":"line","color":"black","strokeWidth":1},"encoding":{"x":{"field":"d","type":"quantitative","axis":null},"y":{"field":"z","type":"quantitative","axis":null},"detail":{"field":"s"}}},
{"data":{"name":"lines"},"transform":[{"filter":"datum.lv==1 || datum.lv==5"}],"mark":{"type":"line","color":"black","strokeWidth":2},"encoding":{"x":{"field":"d","type":"quantitative","axis":null},"y":{"field":"z","type":"quantitative","axis":null},"detail":{"field":"s"}}},
{"data":{"name":"labels"},"mark":{"type":"text","fontSize":20,"fontWeight":"bold","color":"black","align":"center","baseline":"middle"},"encoding":{"x":{"field":"d","type":"quantitative","axis":null},"y":{"field":"z","type":"quantitative","axis":null},"text":{"field":"t"}}},
{"data":{"name":"notes"},"mark":{"type":"text","fontSize":28,"color":"black","align":"left","baseline":"alphabetic"},"encoding":{"x":{"field":"d","type":"quantitative","axis":null},"y":{"field":"z","type":"quantitative","axis":null},"text":{"field":"t"}}},
{"data":{"name":"stations"},"mark":{"type":"point","shape":"triangle-up","filled":true,"color":"black","size":170,"opacity":1},"encoding":{"x":{"field":"d","type":"quantitative","axis":null},"y":{"datum":0,"axis":null}}}
]
},
{
"width":28,"height":401,
"data":{"name":"legend"},
"mark":{"type":"rect","stroke":"#333333","strokeWidth":1},
"encoding":{
 "x":{"datum":0,"type":"quantitative","scale":{"domain":[0,1]},"axis":null},
 "x2":{"datum":1},
 "y":{"field":"lo","type":"quantitative","scale":{"domain":[0,11],"nice":false,"zero":false},"axis":{"orient":"right","values":[0,1,2,3,4,5,6,7,8,9,10],"ticks":false,"tickSize":0,"domain":false,"labelFontSize":13.5,"labelPadding":2,"title":null,"labelFlush":false,"labelOverlap":false}},
 "y2":{"field":"hi"},
 "color":{"field":"lo","type":"ordinal","scale":{"domain":[0,1,2,3,4,5,6,7,8,9,10],"range":["#FFAAAA","#FFFFFF","#E3FFE3","#C6FFC6","#AAFFAA","#8EFF8E","#71FF71","#55FF55","#39FF39","#1CFF1C","#00FF00"]},"legend":null}
}
}
]
}
